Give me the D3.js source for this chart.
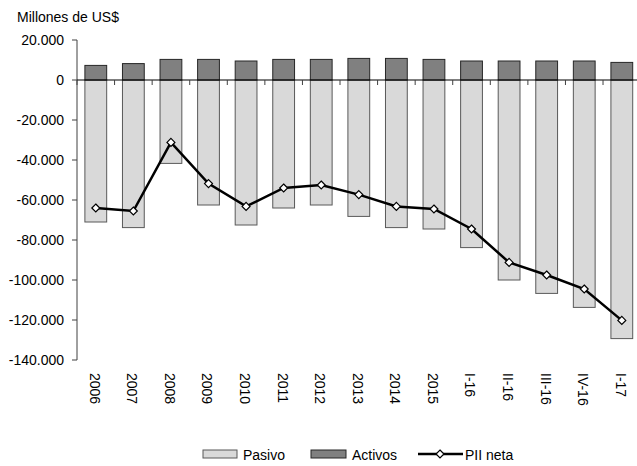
<!DOCTYPE html>
<html>
<head>
<meta charset="utf-8">
<script src="https://cdn.jsdelivr.net/npm/d3@7"></script>
<style>
  body { margin: 0; background: #fff; }
  text { font-family: "Liberation Sans", Arial, sans-serif; fill: #000; }
</style>
</head>
<body>
<div id="chart"></div>
<script>
// Data (millones de US$)
const categories = ["2006", "2007", "2008", "2009", "2010", "2011", "2012", "2013", "2014", "2015", "I-16", "II-16", "III-16", "IV-16", "I-17"];
const activos = [7300, 8200, 10300, 10300, 9500, 10300, 10300, 10800, 10800, 10300, 9500, 9500, 9500, 9500, 8800];
const pasivo = [-71000, -73800, -41700, -62500, -72500, -64000, -62500, -68200, -73800, -74500, -83800, -100000, -106700, -113700, -129300];
const piiNeta = [-64000, -65500, -31200, -51800, -63200, -54000, -52500, -57300, -63200, -64500, -74500, -91200, -97500, -104500, -120200];
const yTicks = [20000, 0, -20000, -40000, -60000, -80000, -100000, -120000, -140000];

const width = 637, height = 466;
const plot = { left: 77, right: 640.6, top: 40, bottom: 360 };

const svg = d3.select("#chart")
  .append("svg")
  .attr("width", width)
  .attr("height", height);

const x = d3.scaleBand()
  .domain(categories)
  .range([plot.left, plot.right])
  .padding(0);

const y = d3.scaleLinear()
  .domain([-140000, 20000])
  .range([plot.bottom, plot.top]);

const barW = x.bandwidth() * 0.58;
const fmt = d => d3.format(",")(d).replace(/,/g, ".").replace("−", "-");

// Title
svg.append("text")
  .attr("x", 17)
  .attr("y", 22)
  .attr("font-size", "14px")
  .text("Millones de US$");

// Y axis
svg.append("line")
  .attr("x1", plot.left).attr("x2", plot.left)
  .attr("y1", plot.top).attr("y2", plot.bottom)
  .attr("stroke", "#404040");

svg.selectAll(".ytick")
  .data(yTicks)
  .enter()
  .append("line")
  .attr("x1", plot.left - 5).attr("x2", plot.left)
  .attr("y1", d => y(d)).attr("y2", d => y(d))
  .attr("stroke", "#404040");

svg.selectAll(".ylabel")
  .data(yTicks)
  .enter()
  .append("text")
  .attr("x", 64)
  .attr("y", d => y(d))
  .attr("dy", "0.36em")
  .attr("text-anchor", "end")
  .attr("font-size", "14px")
  .text(d => fmt(d));

// Pasivo bars
svg.selectAll(".pasivo")
  .data(pasivo)
  .enter()
  .append("rect")
  .attr("x", (d, i) => x(categories[i]) + (x.bandwidth() - barW) / 2)
  .attr("y", y(0))
  .attr("width", barW)
  .attr("height", d => y(d) - y(0))
  .attr("fill", "#d9d9d9")
  .attr("stroke", "#595959")
  .attr("stroke-width", 1);

// Activos bars
svg.selectAll(".activos")
  .data(activos)
  .enter()
  .append("rect")
  .attr("x", (d, i) => x(categories[i]) + (x.bandwidth() - barW) / 2)
  .attr("y", d => y(d))
  .attr("width", barW)
  .attr("height", d => y(0) - y(d))
  .attr("fill", "#808080")
  .attr("stroke", "#262626")
  .attr("stroke-width", 1);

// Zero line with category ticks
svg.append("line")
  .attr("x1", plot.left).attr("x2", plot.right)
  .attr("y1", y(0)).attr("y2", y(0))
  .attr("stroke", "#000")
  .attr("stroke-width", 1.2);

svg.selectAll(".xtick")
  .data(categories)
  .enter()
  .append("line")
  .attr("x1", d => x(d)).attr("x2", d => x(d))
  .attr("y1", y(0)).attr("y2", y(0) + 5)
  .attr("stroke", "#404040");

// X labels, rotated
svg.selectAll(".xlabel")
  .data(categories)
  .enter()
  .append("text")
  .attr("transform", d => "translate(" + (x(d) + x.bandwidth() / 2 - 1) + ",373) rotate(90)")
  .attr("dy", "0.36em")
  .attr("font-size", "14px")
  .text(d => d);

// PII neta line
const line = d3.line()
  .x((d, i) => x(categories[i]) + x.bandwidth() / 2)
  .y(d => y(d));

svg.append("path")
  .datum(piiNeta)
  .attr("d", line)
  .attr("fill", "none")
  .attr("stroke", "#000")
  .attr("stroke-width", 2.5);

const diamond = d3.symbol().type(d3.symbolDiamond2).size(40);

svg.selectAll(".marker")
  .data(piiNeta)
  .enter()
  .append("path")
  .attr("d", diamond)
  .attr("transform", (d, i) => "translate(" + (x(categories[i]) + x.bandwidth() / 2) + "," + y(d) + ")")
  .attr("fill", "#fff")
  .attr("stroke", "#000")
  .attr("stroke-width", 1.2);

// Legend
const legend = svg.append("g");

legend.append("rect")
  .attr("x", 203).attr("y", 450).attr("width", 34).attr("height", 8)
  .attr("fill", "#d9d9d9").attr("stroke", "#595959");
legend.append("text")
  .attr("x", 243).attr("y", 459.5).attr("font-size", "14px").text("Pasivo");

legend.append("rect")
  .attr("x", 311).attr("y", 450).attr("width", 35).attr("height", 8)
  .attr("fill", "#808080").attr("stroke", "#262626");
legend.append("text")
  .attr("x", 352).attr("y", 459.5).attr("font-size", "14px").text("Activos");

legend.append("line")
  .attr("x1", 418).attr("x2", 463).attr("y1", 454).attr("y2", 454)
  .attr("stroke", "#000").attr("stroke-width", 2.5);
legend.append("path")
  .attr("d", diamond)
  .attr("transform", "translate(440,454)")
  .attr("fill", "#fff").attr("stroke", "#000").attr("stroke-width", 1.2);
legend.append("text")
  .attr("x", 465).attr("y", 459.5).attr("font-size", "14px").text("PII neta");
</script>
</body>
</html>
